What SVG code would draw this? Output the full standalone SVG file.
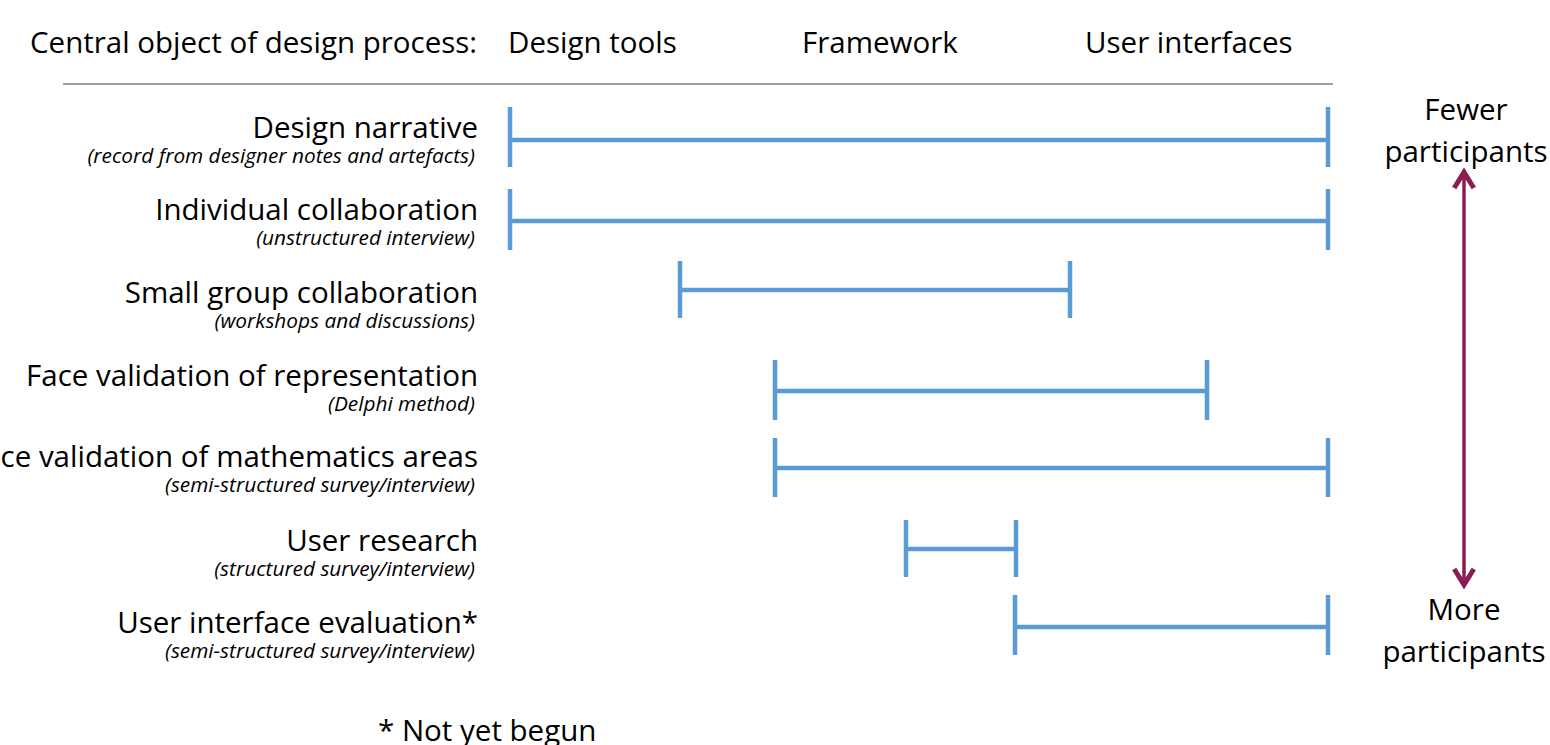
<svg xmlns="http://www.w3.org/2000/svg" width="1550" height="745" viewBox="0 0 1550 745">
  <defs>
    <style>
      text { font-family: "Open Sans", "Liberation Sans", sans-serif; fill: #000; }
      .hdr { font-size: 29.5px; }
      .lbl { font-size: 29.5px; text-anchor: end; }
      .sub { font-size: 20.8px; font-style: italic; text-anchor: end; }
      .side { font-size: 29.5px; text-anchor: middle; }
      .bar { stroke: #5b9bd5; stroke-width: 4.5; fill: none; }
      .rule { stroke: #7f7f7f; stroke-width: 1.5; }
      .span { stroke: #8c1d52; stroke-width: 3.5; fill: none; }
    </style>
    <marker id="head" viewBox="0 0 10 10" refX="6" refY="5" markerWidth="7" markerHeight="7" markerUnits="strokeWidth" orient="auto-start-reverse">
      <path d="M1.5,1 L8,5 L1.5,9" fill="none" stroke="#8c1d52" stroke-width="2" stroke-linejoin="miter"/>
    </marker>
  </defs>

  <!-- column headings -->
  <g id="header">
    <text class="hdr" x="30" y="53">Central object of design process:</text>
    <text class="hdr" x="508" y="53">Design tools</text>
    <text class="hdr" x="802" y="53">Framework</text>
    <text class="hdr" x="1085" y="53">User interfaces</text>
    <line class="rule" x1="63" y1="84" x2="1333" y2="84"/>
  </g>

  <!-- row labels -->
  <g id="row1">
    <text class="lbl" x="478" y="138">Design narrative</text>
    <text class="sub" x="475" y="163">(record from designer notes and artefacts)</text>
  </g>
  <g id="row2">
    <text class="lbl" x="478" y="220">Individual collaboration</text>
    <text class="sub" x="475" y="245">(unstructured interview)</text>
  </g>
  <g id="row3">
    <text class="lbl" x="478" y="303">Small group collaboration</text>
    <text class="sub" x="475" y="328">(workshops and discussions)</text>
  </g>
  <g id="row4">
    <text class="lbl" x="478" y="386">Face validation of representation</text>
    <text class="sub" x="475" y="411">(Delphi method)</text>
  </g>
  <g id="row5">
    <text class="lbl" x="478" y="467">Face validation of mathematics areas</text>
    <text class="sub" x="475" y="492">(semi-structured survey/interview)</text>
  </g>
  <g id="row6">
    <text class="lbl" x="478" y="551">User research</text>
    <text class="sub" x="475" y="576">(structured survey/interview)</text>
  </g>
  <g id="row7">
    <text class="lbl" x="478" y="633">User interface evaluation*</text>
    <text class="sub" x="475" y="658">(semi-structured survey/interview)</text>
  </g>

  <text id="footnote" class="hdr" x="378" y="741">* Not yet begun</text>

  <!-- participant scale -->
  <g id="fewer">
    <text class="side" x="1466" y="120">Fewer</text>
    <text class="side" x="1466" y="162">participants</text>
  </g>
  <g id="more">
    <text class="side" x="1464" y="620">More</text>
    <text class="side" x="1464" y="662">participants</text>
  </g>

  <!-- range bars -->
  <g id="connectors">
    <path class="bar" d="M510,107 V167 M510,140 H1328 M1328,107 V167"/>
    <path class="bar" d="M510,189 V250 M510,221 H1328 M1328,189 V250"/>
    <path class="bar" d="M680,261 V318 M680,290 H1070 M1070,261 V318"/>
    <path class="bar" d="M775,360 V420 M775,391 H1207 M1207,360 V420"/>
    <path class="bar" d="M775,438 V497 M775,468 H1328 M1328,438 V497"/>
    <path class="bar" d="M906,520 V577 M906,549 H1016 M1016,520 V577"/>
    <path class="bar" d="M1015,595 V655 M1015,627 H1328 M1328,595 V655"/>
    <line class="span" x1="1464" y1="177" x2="1464" y2="580" marker-start="url(#head)" marker-end="url(#head)"/>
  </g>
</svg>
